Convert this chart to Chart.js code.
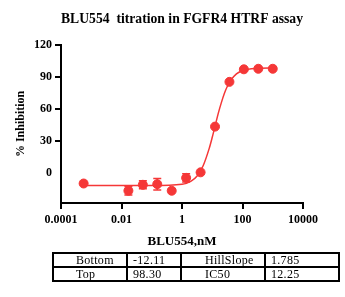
<!DOCTYPE html>
<html>
<head>
<meta charset="utf-8">
<script src="https://cdn.jsdelivr.net/npm/chart.js@4.4.1/dist/chart.umd.min.js"></script>
<style>
  html, body { margin: 0; padding: 0; background: #fff; }
  #wrap { position: relative; width: 345px; height: 297px; }
  #c { position: absolute; left: 0; top: 0; }
  #tbl { position: absolute; left: 52px; top: 252px; border-collapse: collapse;
         font-family: "Liberation Serif", "Times New Roman", serif; font-size: 12px; color: #000; }
  #tbl td { border: 2px solid #000; height: 10px; line-height: 10px; padding: 1px 0 1px 0; white-space: pre; letter-spacing: 0.3px; }
</style>
</head>
<body>
<div id="wrap">
<canvas id="c" width="345" height="297"></canvas>
<table id="tbl">
  <tr><td style="width:50px;padding-left:22px">Bottom</td><td style="width:47px;padding-left:5px">-12.11</td><td style="width:59px;padding-left:23px">HillSlope</td><td style="width:67px;padding-left:5px">1.785</td></tr>
  <tr><td style="padding-left:22px">Top</td><td style="padding-left:5px">98.30</td><td style="padding-left:23px">IC50</td><td style="padding-left:5px">12.25</td></tr>
</table>
</div>
<script>
// ---- data ----
const concentrations = [0.00056, 0.0169, 0.0508, 0.152, 0.457, 1.37, 4.12, 12.35, 37.0, 111, 333, 1000];
const inhibition     = [-10.2, -17.0, -11.4, -10.8, -17.0, -4.9, 0.3, 43.2, 85.2, 97.0, 97.5, 97.5];
const errors         = [0, 3.9, 3.8, 5.4, 0, 3.9, 0, 0, 0, 0, 0, 0];
const curveX = [0.00055, 0.01, 0.1, 1, 2, 3.16, 5, 7.94, 10, 12.6, 15.8, 20, 25.1, 31.6, 39.8, 63.1, 100, 200, 400, 1000];
const curveY = [-12.1, -12.1, -12.1, -10.9, -7.9, -3.1, 6.5, 22.8, 33.2, 44.5, 55.6, 65.7, 74.3, 81.1, 86.3, 92.7, 95.7, 97.5, 98.0, 98.2];
const xTicks = [0.0001, 0.01, 1, 100, 10000];
const yTicks = [0, 30, 60, 90, 120];
const titleText = 'BLU554  titration in FGFR4 HTRF assay';
const xTitle = 'BLU554,nM';
const yTitle = '% Inhibition';

const RED = 'rgb(245,55,55)';

const errorBars = {
  id: 'errorBars',
  afterDatasetsDraw(chart) {
    const x = chart.scales.x, y = chart.scales.y, ctx = chart.ctx;
    ctx.save();
    ctx.strokeStyle = RED;
    ctx.lineWidth = 1.5;
    concentrations.forEach((c, i) => {
      const e = errors[i];
      if (!e) return;
      const px = x.getPixelForValue(c);
      const y1 = y.getPixelForValue(inhibition[i] + e);
      const y2 = y.getPixelForValue(inhibition[i] - e);
      ctx.beginPath();
      ctx.moveTo(px, y1); ctx.lineTo(px, y2);
      ctx.moveTo(px - 4, y1); ctx.lineTo(px + 4, y1);
      ctx.moveTo(px - 4, y2); ctx.lineTo(px + 4, y2);
      ctx.stroke();
    });
    ctx.restore();
  }
};

new Chart(document.getElementById('c'), {
  type: 'scatter',
  data: {
    datasets: [
      {
        type: 'line',
        data: curveX.map((v, i) => ({x: v, y: curveY[i]})),
        borderColor: RED,
        borderWidth: 1.5,
        pointRadius: 0,
        cubicInterpolationMode: 'monotone',
        fill: false,
        order: 2
      },
      {
        data: concentrations.map((v, i) => ({x: v, y: inhibition[i]})),
        backgroundColor: RED,
        borderColor: RED,
        pointRadius: 4.5,
        pointHoverRadius: 4.5,
        order: 1
      }
    ]
  },
  options: {
    responsive: false,
    animation: false,
    events: [],
    layout: { padding: { top: 0, left: 0, right: 42, bottom: 46 } },
    plugins: {
      legend: { display: false },
      tooltip: { enabled: false },
      title: {
        display: true,
        text: titleText,
        fullSize: false,
        color: '#000',
        font: { family: '"Liberation Serif", serif', size: 14, weight: 'bold' },
        padding: { top: 11, bottom: 17 }
      }
    },
    scales: {
      x: {
        type: 'logarithmic',
        min: 0.0001,
        max: 10000,
        afterBuildTicks: (s) => { s.ticks = xTicks.map(v => ({value: v})); },
        ticks: {
          color: '#000',
          font: { family: '"Liberation Serif", serif', size: 12, weight: 'bold' },
          padding: 4,
          maxRotation: 0,
          autoSkip: false,
          callback: (v) => String(v)
        },
        grid: { drawOnChartArea: false, drawTicks: true, tickLength: 6, color: '#000', lineWidth: 2 },
        border: { display: true, color: '#000', width: 2 },
        title: {
          display: true, text: xTitle, color: '#000',
          font: { family: '"Liberation Serif", serif', size: 13, weight: 'bold' },
          padding: { top: 2, bottom: 2 }
        }
      },
      y: {
        min: -28.5,
        max: 120,
        afterBuildTicks: (s) => { s.ticks = yTicks.map(v => ({value: v})); },
        afterFit: (s) => { s.width = 61; },
        ticks: {
          color: '#000',
          font: { family: '"Liberation Serif", serif', size: 12, weight: 'bold' },
          padding: 3
        },
        grid: {
          drawOnChartArea: false, drawTicks: true, tickLength: 6, lineWidth: 2,
          color: '#000',
          tickColor: (ctx) => (ctx.tick && ctx.tick.value === 0) ? 'rgba(0,0,0,0)' : '#000'
        },
        border: { display: true, color: '#000', width: 2 },
        title: {
          display: true, text: yTitle, color: '#000',
          font: { family: '"Liberation Serif", serif', size: 12, weight: 'bold' },
          padding: { top: 14, bottom: 0 }
        }
      }
    }
  },
  plugins: [errorBars]
});
</script>
</body>
</html>
